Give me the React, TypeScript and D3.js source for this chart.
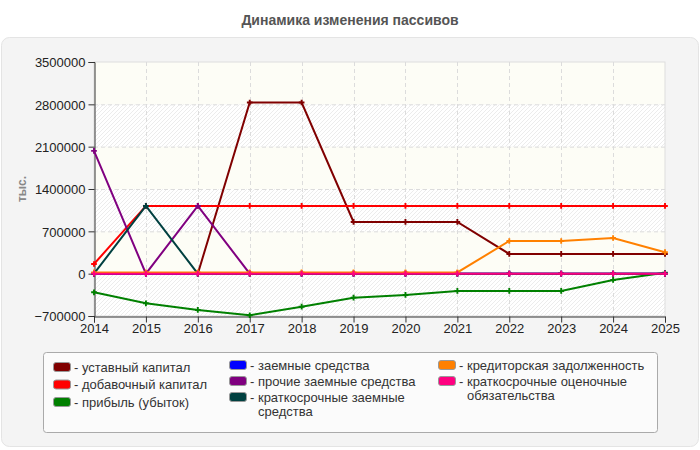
import { useEffect, useRef } from 'react';
import * as d3 from 'd3';

const years = [2014, 2015, 2016, 2017, 2018, 2019, 2020, 2021, 2022, 2023, 2024, 2025];
const yTicks = [-700000, 0, 700000, 1400000, 2100000, 2800000, 3500000];

const ustavnyKapital = [0, 0, 0, 2830000, 2830000, 855000, 855000, 855000, 326000, 326000, 326000, 326000];
const dobavochnyKapital = [160000, 1120000, 1120000, 1120000, 1120000, 1120000, 1120000, 1120000, 1120000, 1120000, 1120000, 1120000];
const pribyl = [-308000, -490000, -600000, -688000, -546000, -397000, -352000, -286000, -286000, -286000, -104000, 15000];
const zaemnye = [0, 0, 0, 0, 0, 0, 0, 0, 0, 0, 0, 0];
const prochieZaemnye = [2030000, 0, 1120000, 0, 0, 0, 0, 0, 0, 0, 0, 0];
const kratkZaemnye = [0, 1120000, 0, 0, 0, 0, 0, 0, 0, 0, 0, 0];
const kreditorskaya = [20000, 20000, 20000, 20000, 20000, 20000, 20000, 20000, 540000, 540000, 590000, 355000];
const ocenochnye = [0, 0, 0, 0, 0, 0, 0, 0, 0, 0, 0, 0];

const seriesNames = [
    ['уставный капитал'],
    ['добавочный капитал'],
    ['прибыль (убыток)'],
    ['заемные средства'],
    ['прочие заемные средства'],
    ['краткосрочные заемные', 'средства'],
    ['кредиторская задолженность'],
    ['краткосрочные оценочные', 'обязательства'],
];
const seriesColors = ['#800000', '#ff0000', '#008000', '#0000ff', '#800080', '#004040', '#ff8000', '#ff0080'];
const seriesValues = [ustavnyKapital, dobavochnyKapital, pribyl, zaemnye, prochieZaemnye, kratkZaemnye, kreditorskaya, ocenochnye];

function App() {
    const chartRef = useRef(null);

    useEffect(() => {
        createChart();
    }, []);

    function createChart() {
        const svg = d3.select(chartRef.current);
        svg.selectAll('*').remove();

        const font = "'Liberation Sans', Arial, sans-serif";
        const plot = { left: 94, right: 665, top: 62, bottom: 316 };

        // outer panel
        svg.append('rect')
            .attr('x', 1.5).attr('y', 37.5)
            .attr('width', 697).attr('height', 409)
            .attr('rx', 8)
            .attr('fill', '#f4f4f4')
            .attr('stroke', '#e4e4e4');

        svg.append('text')
            .attr('x', 350).attr('y', 25)
            .attr('text-anchor', 'middle')
            .attr('font-family', font)
            .attr('font-size', 14)
            .attr('font-weight', 'bold')
            .attr('fill', '#555')
            .text('Динамика изменения пассивов');

        const x = d3.scaleLinear().domain([2014, 2025]).range([plot.left, plot.right]);
        const y = d3.scaleLinear().domain([-700000, 3500000]).range([plot.bottom, plot.top]);

        const defs = svg.append('defs');
        const pattern = defs.append('pattern')
            .attr('id', 'hatch')
            .attr('patternUnits', 'userSpaceOnUse')
            .attr('width', 4).attr('height', 4);
        pattern.append('rect').attr('width', 4).attr('height', 4).attr('fill', '#ffffff');
        pattern.append('path')
            .attr('d', 'M-1,1 l2,-2 M0,4 l4,-4 M3,5 l2,-2')
            .attr('stroke', '#ececec')
            .attr('stroke-width', 1);

        // alternating bands
        const bands = d3.pairs(yTicks);
        svg.append('g')
            .selectAll('rect')
            .data(bands)
            .enter()
            .append('rect')
            .attr('x', plot.left)
            .attr('y', (d) => y(d[1]))
            .attr('width', plot.right - plot.left)
            .attr('height', (d) => y(d[0]) - y(d[1]))
            .attr('fill', (d, i) => (i % 2 === 0 ? 'url(#hatch)' : '#fdfdf6'));

        svg.append('rect')
            .attr('x', plot.left).attr('y', plot.top)
            .attr('width', plot.right - plot.left)
            .attr('height', plot.bottom - plot.top)
            .attr('fill', 'none')
            .attr('stroke', '#dddddd');

        // grid
        const grid = svg.append('g').attr('stroke', '#dcdcdc').attr('stroke-dasharray', '4,3');
        grid.selectAll('.gy')
            .data(yTicks.slice(1, -1))
            .enter()
            .append('line')
            .attr('x1', plot.left).attr('x2', plot.right)
            .attr('y1', (d) => y(d) + 0.5).attr('y2', (d) => y(d) + 0.5);
        grid.selectAll('.gx')
            .data(years.slice(1, -1))
            .enter()
            .append('line')
            .attr('y1', plot.top).attr('y2', plot.bottom)
            .attr('x1', (d) => Math.round(x(d)) + 0.5).attr('x2', (d) => Math.round(x(d)) + 0.5);

        // axes
        const yAxis = svg.append('g')
            .attr('transform', `translate(${plot.left + 0.5},0)`)
            .call(d3.axisLeft(y).tickValues(yTicks).tickFormat(d3.format('d')).tickSize(6).tickPadding(3));
        const xAxis = svg.append('g')
            .attr('transform', `translate(0,${plot.bottom + 0.5})`)
            .call(d3.axisBottom(x).tickValues(years).tickFormat(d3.format('d')).tickSize(6).tickPadding(1));
        [yAxis, xAxis].forEach((a) => {
            a.selectAll('path, line').attr('stroke', '#333');
            a.selectAll('text')
                .attr('font-family', font)
                .attr('font-size', 13)
                .attr('fill', '#222');
        });
        yAxis.selectAll('text').attr('dy', '0.36em');

        svg.append('text')
            .attr('transform', 'translate(26,189) rotate(-90)')
            .attr('text-anchor', 'middle')
            .attr('font-family', font)
            .attr('font-size', 12)
            .attr('font-weight', 'bold')
            .attr('fill', '#888')
            .text('тыс.');

        // lines
        const line = d3.line<number>()
            .x((d, i) => x(years[i]))
            .y((d) => y(d));

        const series = svg.append('g');
        seriesValues.forEach((vals, si) => {
            series.append('path')
                .datum(vals)
                .attr('d', line)
                .attr('fill', 'none')
                .attr('stroke', seriesColors[si])
                .attr('stroke-width', 2);
            series.selectAll(`.m${si}`)
                .data(vals)
                .enter()
                .append('path')
                .attr('transform', (d, i) => `translate(${x(years[i])},${y(d)})`)
                .attr('d', d3.symbol(d3.symbolCross, 18))
                .attr('fill', seriesColors[si]);
        });

        // legend
        svg.append('rect')
            .attr('x', 43.5).attr('y', 352.5)
            .attr('width', 614).attr('height', 80)
            .attr('rx', 3)
            .attr('fill', '#fbfbfb')
            .attr('stroke', '#aaaaaa');

        const columns = [
            { x: 53, y0: 367, step: 17.5, items: [0, 1, 2] },
            { x: 229, y0: 365, step: 16, items: [3, 4, 5] },
            { x: 438, y0: 365, step: 16, items: [6, 7] },
        ];
        const legend = svg.append('g').attr('font-family', font).attr('font-size', 13).attr('fill', '#333');
        columns.forEach((col) => {
            col.items.forEach((si, row) => {
                const cy = col.y0 + row * col.step;
                legend.append('rect')
                    .attr('x', col.x + 0.5).attr('y', cy - 4.5)
                    .attr('width', 17).attr('height', 9)
                    .attr('rx', 2.5)
                    .attr('fill', seriesColors[si])
                    .attr('stroke', '#999');
                const t = legend.append('text')
                    .attr('x', col.x + 21).attr('y', cy + 4.5);
                seriesNames[si].forEach((s, li) => {
                    t.append('tspan')
                        .attr('x', li === 0 ? col.x + 21 : col.x + 29)
                        .attr('dy', li === 0 ? 0 : 14)
                        .text(li === 0 ? '- ' + s : s);
                });
            });
        });
    }

    return (
        <svg
            ref={chartRef}
            width="700"
            height="450"
            style={{ position: 'absolute', left: 0, top: 0 }}
        ></svg>
    );
}

export default App;
